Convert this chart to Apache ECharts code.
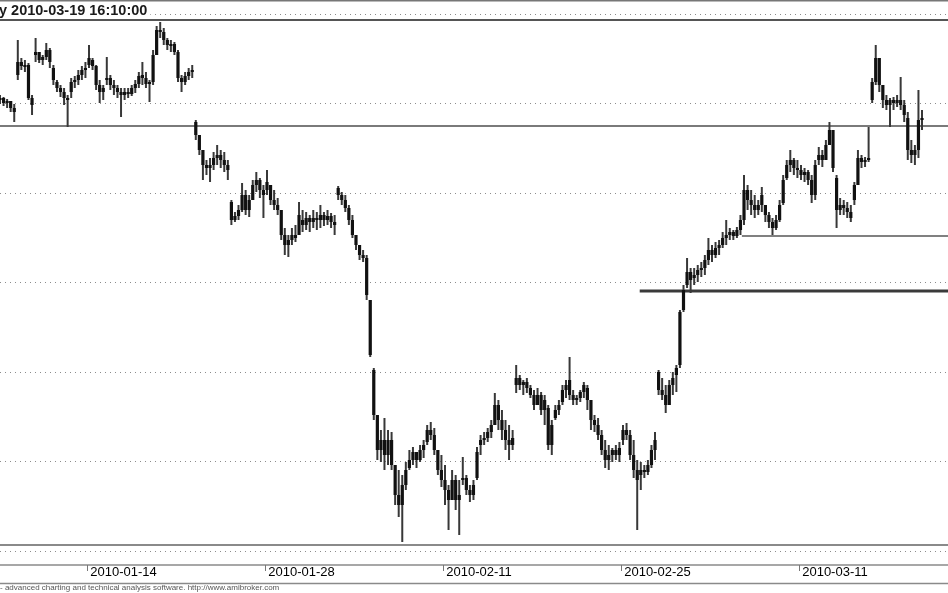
<!DOCTYPE html>
<html>
<head>
<meta charset="utf-8">
<script src="https://cdn.jsdelivr.net/npm/echarts@6/dist/echarts.min.js"></script>
<style>
html,body{margin:0;padding:0;background:#fff;}
#chart{width:948px;height:593px;}
</style>
</head>
<body>
<div id="chart"></div>
<script>
// Trading days shown (5 intraday bars per day)
const days = ['2010-01-07','2010-01-08','2010-01-11','2010-01-12','2010-01-13','2010-01-14','2010-01-15',
  '2010-01-18','2010-01-19','2010-01-20','2010-01-21','2010-01-22','2010-01-25','2010-01-26','2010-01-27',
  '2010-01-28','2010-01-29','2010-02-01','2010-02-02','2010-02-03','2010-02-04','2010-02-05','2010-02-08',
  '2010-02-09','2010-02-10','2010-02-11','2010-02-12','2010-02-15','2010-02-16','2010-02-17','2010-02-18',
  '2010-02-19','2010-02-22','2010-02-23','2010-02-24','2010-02-25','2010-02-26','2010-03-01','2010-03-02',
  '2010-03-03','2010-03-04','2010-03-05','2010-03-08','2010-03-09','2010-03-10','2010-03-11','2010-03-12',
  '2010-03-15','2010-03-16','2010-03-17','2010-03-18','2010-03-19'];
const barsPerDay = 5;
const labeledDays = ['2010-01-14','2010-01-28','2010-02-11','2010-02-25','2010-03-11'];
const titleText = 'y 2010-03-19 16:10:00';
const footerText = '- advanced charting and technical analysis software. http://www.amibroker.com';

const opens = [451,453,448,450,443, 476,489,485,486,453, 496,499,491,494,501, 483,469,463,459,453,
 459,469,471,476,481, 486,491,485,466,459, 471,473,466,463,459, 456,459,457,463,467,
 476,473,467,469,496, 521,519,511,506,507, 499,473,469,475,479, 429,416,401,386,383,
 386,393,396,391,386, 349,331,335,341,356, 341,351,366,371,361, 361,366,351,346,341,
 316,306,311,316,316, 331,326,333,329,333, 331,336,331,335,329, 363,356,351,343,331,
 316,306,296,293,251, 181,136,101,111,96, 111,86,56,46,66, 83,91,99,91,101,
 109,121,116,101,81, 71,61,51,71,51, 71,73,61,56,73, 106,111,113,119,126,
 146,131,121,111,106, 166,173,166,169,163, 156,146,156,141,143, 106,133,141,149,161,
 171,156,151,153,159, 163,151,131,126,116, 101,91,96,101,96, 111,121,116,96,81,
 76,81,79,86,101, 179,161,156,146,166, 176,186,241,266,279, 273,276,281,283,291,
 301,296,303,306,313, 316,319,315,321,331, 361,351,346,341,346, 346,336,329,323,331,
 348,373,386,391,383, 381,376,379,371,356, 391,396,391,406,421, 373,341,346,343,339,
 351,366,393,389,391, 451,469,493,466,451, 446,451,448,451,446, 433,401,396,401,431];
const highs = [456,454,452,450,447, 511,493,491,488,456, 513,499,496,508,503, 486,471,466,463,456,
 473,475,481,485,489, 506,493,486,471,466, 494,476,471,466,463, 463,463,466,471,479,
 489,479,471,501,525, 529,523,513,511,509, 501,476,479,483,486, 431,416,401,391,393,
 399,406,401,399,391, 351,339,346,368,361, 356,371,379,373,366, 381,366,361,353,341,
 323,316,323,326,349, 341,339,336,341,339, 346,339,341,338,336, 365,359,356,346,336,
 316,306,301,296,251, 183,136,121,133,121, 119,86,81,76,89, 101,104,99,106,111,
 126,129,123,101,96, 86,66,81,76,71, 94,76,66,71,104, 116,119,123,131,158,
 151,141,131,126,121, 186,176,171,173,166, 161,163,159,156,146, 131,146,151,166,171,
 194,161,156,161,169, 166,151,136,133,121, 111,106,103,106,109, 126,128,121,111,91,
 89,86,91,106,119, 181,173,166,171,179, 186,241,266,293,283, 283,286,289,296,313,
 306,309,311,319,331, 323,321,324,336,376, 366,361,356,351,364, 346,339,333,336,351,
 376,391,401,393,391, 386,383,381,376,391, 404,401,411,429,421, 376,353,351,349,346,
 369,401,396,394,424, 473,506,493,466,456, 453,454,456,474,451, 439,411,406,461,441];
const lows = [447,445,443,439,429, 471,481,479,451,436, 489,488,486,491,483, 466,459,454,446,424,
 453,463,466,471,473, 483,481,461,448,451, 466,461,456,453,434, 451,453,455,458,463,
 466,463,449,466,496, 513,506,501,499,496, 469,459,466,471,473, 411,396,371,376,369,
 381,386,383,379,371, 326,329,331,339,336, 334,351,359,353,333, 356,346,341,336,311,
 296,294,306,309,316, 319,321,319,323,321, 323,325,326,323,316, 351,346,339,326,313,
 301,291,289,251,194, 131,91,89,81,86, 81,46,34,9,61, 81,86,83,89,93,
 106,111,96,76,64, 46,21,51,41,16, 66,56,49,51,71, 96,106,109,113,126,
 121,111,101,91,101, 158,161,156,158,153, 141,146,136,126,101, 96,131,136,146,153,
 151,146,146,149,153, 141,121,119,111,96, 83,81,89,91,89, 106,111,91,73,21,
 61,73,76,83,91, 156,151,138,146,156, 159,183,239,263,258, 266,269,274,276,286,
 289,293,296,303,306, 311,311,313,316,326, 341,336,333,336,339, 329,323,316,321,329,
 346,371,379,376,373, 371,369,366,348,351, 386,384,391,406,379, 323,336,336,333,329,
 346,366,383,384,389, 448,466,459,443,441, 424,441,444,441,429, 391,388,386,393,421];
const closes = [453,448,450,443,439, 489,485,486,453,446, 499,491,494,501,489, 471,463,459,453,451,
 469,471,476,481,483, 493,485,466,459,463, 473,466,463,459,456, 459,457,463,467,475,
 473,467,469,496,521, 519,511,506,507,499, 473,469,475,479,481, 416,401,386,383,386,
 393,396,391,386,381, 331,335,341,356,341, 351,366,371,361,356, 369,351,346,341,316,
 306,311,316,313,336, 326,333,329,333,331, 336,331,335,329,326, 356,351,343,331,316,
 306,296,293,256,196, 136,101,111,96,111, 86,56,46,66,81, 91,99,91,101,106,
 121,116,101,81,71, 61,51,71,51,56, 73,61,56,66,99, 111,113,119,126,146,
 131,121,111,106,113, 173,166,169,163,156, 146,156,141,151,106, 126,141,146,161,166,
 156,151,153,159,166, 151,131,126,116,101, 91,96,101,96,103, 121,116,96,81,71,
 81,79,86,101,111, 161,156,146,166,173, 183,239,261,279,271, 276,281,283,291,301,
 296,303,306,313,316, 319,315,321,331,361, 351,346,341,346,356, 336,329,323,331,346,
 371,386,391,383,381, 376,379,371,356,386, 396,391,406,421,383, 341,346,343,339,333,
 366,393,389,391,393, 469,493,466,451,446, 451,448,451,446,436, 401,396,401,431,433];

// drawn horizontal study lines (levels on the same unlabelled price scale)
const studyLevels = [531, 425, 315, 260, 6];
const studyStartDay = ['2010-01-07', '2010-01-07', '2010-03-05', '2010-02-26', '2010-01-07'];
const studyStartBar = [-0.5, -0.5, 3.4, -0.3, -0.5];
const studyWidths = [2, 2, 2, 3, 2];
const studyColors = ['#555555', '#7a7a7a', '#808080', '#3a3a3a', '#8a8a8a'];

const axisMax = 266.3;

const ohlc = opens.map((o, i) => [i, o, highs[i], lows[i], closes[i]]);
const tickVals = labeledDays.map(d => days.indexOf(d) * barsPerDay - 0.5);

const studySeries = studyLevels.map((lv, k) => ({
  type: 'line',
  data: [[days.indexOf(studyStartDay[k]) * barsPerDay + studyStartBar[k], lv], [axisMax, lv]],
  symbol: 'none',
  silent: true,
  z: 1,
  lineStyle: { color: studyColors[k], width: studyWidths[k] }
}));

const chart = echarts.init(document.getElementById('chart'), null, { renderer: 'canvas' });
chart.setOption({
  backgroundColor: '#ffffff',
  animation: false,
  title: {
    text: titleText, left: -1, top: 3, padding: [0, 3, 0, 0],
    backgroundColor: '#ffffff',
    textStyle: { fontFamily: 'Liberation Sans, Arial, sans-serif', fontSize: 14.5, fontWeight: 'bold', color: '#1a1a1a' }
  },
  grid: { left: 0, right: 0, top: 14, bottom: 42, outerBoundsMode: 'none', containLabel: false },
  xAxis: {
    type: 'value', min: 0, max: axisMax,
    offset: 14,
    axisLine: { show: true, onZero: false, lineStyle: { color: '#8a8a8a', width: 1.5 } },
    axisTick: { show: true, customValues: tickVals, length: 6, lineStyle: { color: '#777', width: 1 } },
    axisLabel: {
      show: true, customValues: tickVals, align: 'left', margin: 1, padding: [0, 0, 0, 3],
      fontFamily: 'Liberation Sans, Arial, sans-serif', fontSize: 13, color: '#000',
      formatter: v => days[Math.round((v + 0.5) / barsPerDay)]
    },
    splitLine: { show: false }
  },
  yAxis: {
    type: 'value', min: 0, max: 537, interval: 89.5,
    axisLine: { show: false }, axisTick: { show: false }, axisLabel: { show: false },
    splitLine: { show: true, lineStyle: { color: '#8c8c8c', type: [1, 4], width: 1 } }
  },
  series: [
    ...studySeries,
    {
      type: 'custom',
      data: ohlc,
      encode: { x: 0, y: [1, 2, 3, 4] },
      z: 3,
      renderItem: function (params, api) {
        const x = api.value(0);
        const o = api.coord([x, api.value(1)]);
        const h = api.coord([x, api.value(2)]);
        const l = api.coord([x, api.value(3)]);
        const c = api.coord([x, api.value(4)]);
        const bw = 3.2;
        const top = Math.min(o[1], c[1]);
        const ht = Math.max(2, Math.abs(o[1] - c[1]));
        return {
          type: 'group',
          children: [
            { type: 'line', shape: { x1: h[0], y1: h[1], x2: l[0], y2: l[1] }, style: { stroke: '#383838', lineWidth: 2 } },
            { type: 'rect', shape: { x: o[0] - bw / 2, y: top, width: bw, height: ht }, style: { fill: '#111' } }
          ]
        };
      }
    }
  ],
  graphic: [
    { type: 'line', shape: { x1: 0, y1: 0.5, x2: 948, y2: 0.5 }, style: { stroke: '#777', lineWidth: 2 }, silent: true },
    { type: 'line', shape: { x1: 0, y1: 583.5, x2: 948, y2: 583.5 }, style: { stroke: '#8a8a8a', lineWidth: 1.5 }, silent: true },
    { type: 'text', left: 0, top: 584, silent: true,
      style: { text: footerText, fontFamily: 'Liberation Sans, Arial, sans-serif', fontSize: 8, fill: '#555' } }
  ]
});
</script>
</body>
</html>
